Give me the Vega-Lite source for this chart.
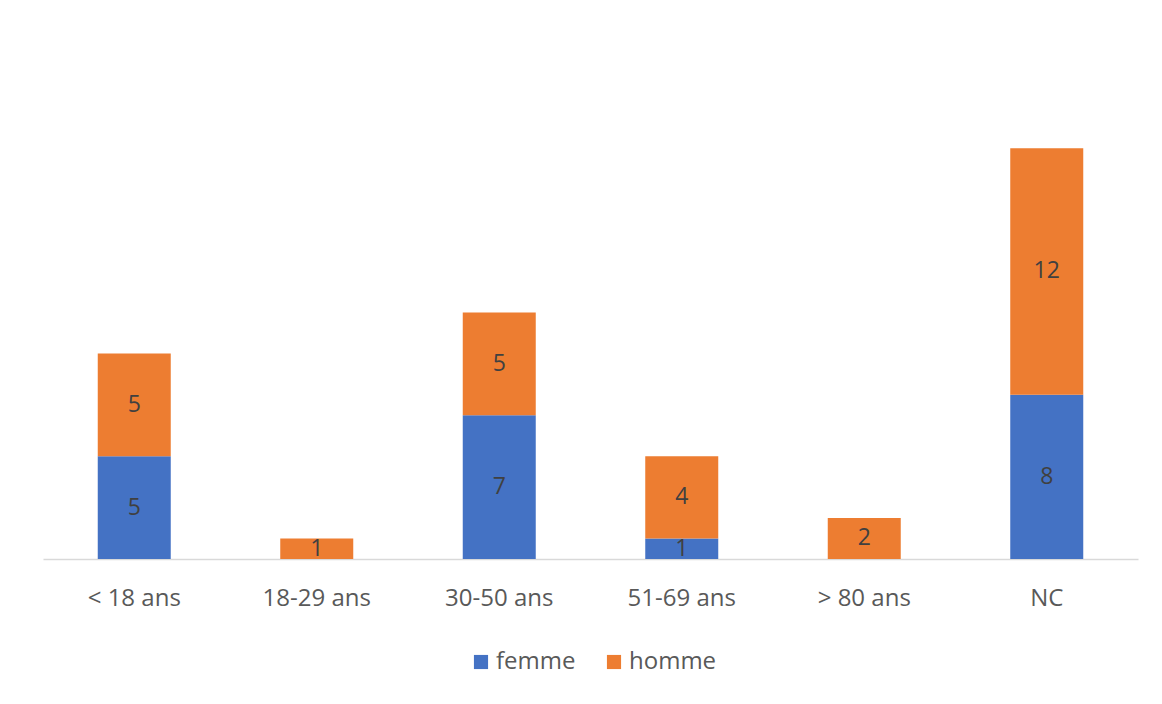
{
  "$schema": "https://vega.github.io/schema/vega-lite/v6.json",
  "width": 1095,
  "height": 534,
  "autosize": {"type": "none"},
  "padding": {"left": 43, "top": 25, "right": 24, "bottom": 145},
  "background": "white",
  "data": {
    "values": [
      {"age": "< 18 ans", "sexe": "femme", "n": 5},
      {"age": "< 18 ans", "sexe": "homme", "n": 5},
      {"age": "18-29 ans", "sexe": "homme", "n": 1},
      {"age": "30-50 ans", "sexe": "femme", "n": 7},
      {"age": "30-50 ans", "sexe": "homme", "n": 5},
      {"age": "51-69 ans", "sexe": "femme", "n": 1},
      {"age": "51-69 ans", "sexe": "homme", "n": 4},
      {"age": "> 80 ans", "sexe": "homme", "n": 2},
      {"age": "NC", "sexe": "femme", "n": 8},
      {"age": "NC", "sexe": "homme", "n": 12}
    ]
  },
  "transform": [
    {"stack": "n", "groupby": ["age"], "sort": [{"field": "sexe", "order": "ascending"}], "as": ["y0", "y1"]},
    {"calculate": "(datum.y0 + datum.y1) / 2", "as": "mid"}
  ],
  "encoding": {
    "x": {
      "field": "age",
      "type": "nominal",
      "sort": ["< 18 ans", "18-29 ans", "30-50 ans", "51-69 ans", "> 80 ans", "NC"],
      "scale": {"paddingInner": 0.6, "paddingOuter": 0.3},
      "axis": {
        "title": null,
        "labelAngle": 0,
        "ticks": false,
        "domainColor": "#d9d9d9",
        "domainWidth": 1.5,
        "labelFont": "Open Sans",
        "labelFontSize": 24,
        "labelColor": "#595959",
        "labelPadding": 27
      }
    }
  },
  "layer": [
    {
      "mark": {"type": "bar"},
      "encoding": {
        "y": {"field": "y0", "type": "quantitative", "scale": {"domain": [0, 26]}, "axis": null},
        "y2": {"field": "y1"},
        "color": {
          "field": "sexe",
          "type": "nominal",
          "scale": {"domain": ["femme", "homme"], "range": ["#4472C4", "#ED7D31"]},
          "legend": {
            "title": null,
            "orient": "none",
            "legendX": 426,
            "legendY": 625,
            "direction": "horizontal",
            "symbolType": "square",
            "symbolSize": 200,
            "symbolStrokeWidth": 0,
            "labelFont": "Open Sans",
            "labelFontSize": 24,
            "labelColor": "#595959",
            "labelOffset": 3,
            "columnPadding": 26
          }
        }
      }
    },
    {
      "mark": {"type": "text", "font": "Open Sans", "fontSize": 23, "color": "#404040", "baseline": "middle"},
      "encoding": {
        "y": {"field": "mid", "type": "quantitative"},
        "text": {"field": "n", "type": "quantitative"}
      }
    }
  ],
  "config": {"view": {"stroke": null}}
}
